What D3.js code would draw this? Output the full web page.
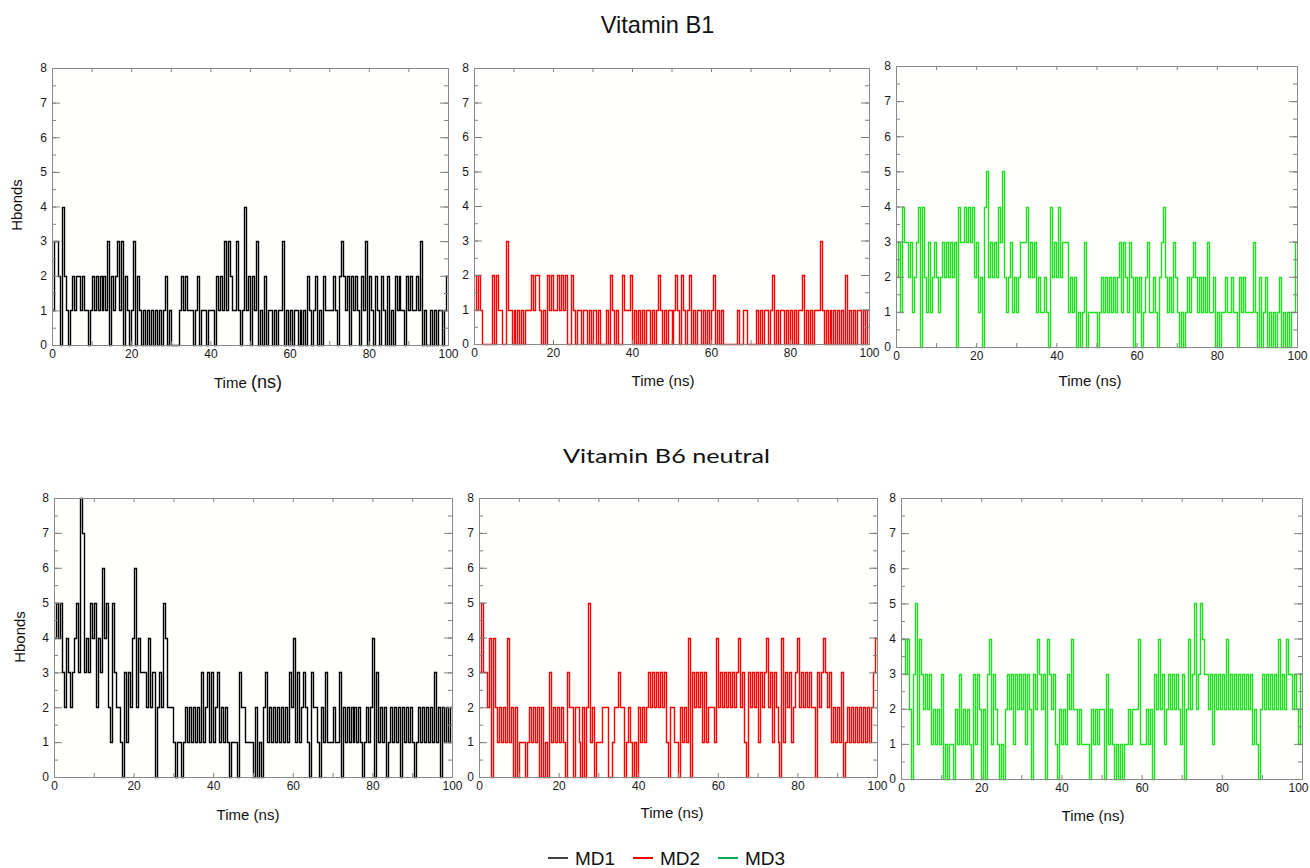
<!DOCTYPE html>
<html><head><meta charset="utf-8">
<script src="https://cdn.jsdelivr.net/npm/d3@7"></script>
<style>body{margin:0;background:#fff} svg{display:block}</style>
</head><body>
<svg id="chart" width="1310" height="868"></svg>
<script>
const timeStep = 0.5;
const b1_md1 = [
 1,3,3,2,0,4,2,1,0,1, 2,1,2,2,1,2,1,1,0,1, 2,1,2,1,2,1,2,1,3,0, 2,1,2,3,1,3,0,2,1,0,
 1,3,0,2,1,0,1,0,1,0, 1,0,1,0,1,0,1,2,0,1, 0,0,0,0,1,2,1,2,1,1, 1,0,1,2,0,1,1,1,0,1,
 1,1,0,2,1,2,1,3,1,3, 2,1,1,3,1,0,1,4,1,2, 0,2,1,3,0,1,0,2,0,1, 1,0,1,0,1,1,3,0,1,0,
 1,0,1,1,0,1,0,1,0,2, 1,0,1,2,0,1,0,2,1,1, 1,1,2,1,0,2,3,2,1,2, 0,2,1,2,1,0,2,1,3,0,
 2,1,0,2,1,0,2,1,0,2, 0,1,0,2,1,2,1,1,0,2, 1,2,1,1,2,1,3,0,1,0, 0,1,0,1,0,1,1,0,1,2];
const b1_md2 = [
 2,1,2,1,0,0,0,0,0,2, 0,2,1,1,0,0,3,1,1,0, 1,0,1,0,1,0,1,1,1,2, 1,2,2,1,0,1,0,2,1,2,
 1,1,2,1,2,1,2,0,0,2, 1,0,1,1,0,1,1,0,1,0, 1,1,0,1,0,0,0,1,0,2, 1,0,1,0,0,2,1,1,1,2,
 0,1,0,1,0,1,0,1,1,0, 1,0,1,2,1,0,1,0,1,1, 0,1,2,1,0,2,1,0,1,2, 0,1,0,1,1,0,1,0,1,0,
 1,2,0,1,0,1,0,0,0,0, 0,0,0,1,0,0,1,1,0,0, 0,0,0,1,0,1,0,1,1,0, 1,2,0,1,0,1,1,0,1,0,
 1,0,1,0,1,1,2,0,1,0, 1,0,1,1,1,3,1,0,1,0, 1,0,1,0,1,0,1,0,2,0, 1,0,1,0,1,1,0,1,0,1];
const b1_md3 = [
 2,3,1,4,3,3,2,3,1,2, 3,4,0,4,2,1,3,1,2,3, 2,1,2,3,2,3,2,3,2,3, 0,4,3,3,4,3,4,3,4,2,
 3,1,2,0,4,5,2,3,2,3, 2,4,3,5,2,1,2,3,1,2, 1,2,3,3,3,4,2,3,2,3, 1,2,1,1,2,1,0,4,2,3,
 2,4,2,3,3,3,1,2,1,2, 0,1,0,1,3,0,1,1,1,1, 0,1,2,1,2,1,2,1,2,1, 2,3,1,3,2,1,3,2,0,2,
 1,2,0,1,2,3,1,1,2,1, 0,2,3,4,2,1,2,1,3,2, 1,0,1,0,1,2,1,2,3,2, 1,2,1,2,1,3,1,1,2,0,
 1,0,1,1,2,1,1,2,1,1, 0,2,1,2,1,1,1,1,3,1, 0,2,0,1,2,0,1,0,1,0, 1,2,0,1,0,1,0,1,1,3];
const b6_md1 = [
 4,5,4,5,3,2,4,3,2,3, 4,5,3,8,7,3,4,3,5,4, 5,2,4,3,6,4,5,2,1,5, 3,2,2,1,0,3,1,3,2,4,
 6,2,4,3,3,3,2,4,2,3, 3,0,2,3,2,5,4,2,2,2, 1,0,1,1,0,1,2,1,2,1, 2,1,2,1,3,1,2,3,1,3,
 1,2,3,1,2,1,2,1,0,1, 1,1,0,3,2,2,1,1,1,1, 0,2,0,1,0,2,3,1,2,1, 2,1,2,1,2,1,2,1,3,2,
 4,1,3,1,2,3,2,1,0,3, 2,2,1,0,2,1,3,1,1,1, 2,1,1,3,0,2,1,2,1,2, 1,2,1,2,1,0,1,2,1,2,
 4,0,3,1,2,1,2,0,1,2, 1,2,1,2,0,2,1,2,1,2, 1,0,1,2,1,2,1,2,1,2, 1,3,1,2,0,2,1,2,1,2];
const b6_md2 = [
 3,5,3,3,2,4,0,4,2,1, 2,1,2,1,4,1,2,0,2,0, 1,1,1,0,1,2,1,2,1,2, 0,2,0,1,0,3,1,2,1,2,
 1,2,1,0,3,2,2,0,2,2, 1,0,2,0,2,5,1,2,0,1, 1,1,2,2,2,0,0,1,2,2, 3,2,2,0,1,2,1,0,1,0,
 2,1,2,1,2,3,2,3,2,3, 2,3,2,3,1,0,2,2,1,1, 0,2,1,2,1,4,0,3,2,3, 2,3,1,3,1,2,2,2,1,4,
 2,3,2,3,2,3,2,3,2,3, 4,2,3,1,0,3,2,3,2,3, 1,3,2,3,4,2,3,1,3,2, 1,0,4,1,3,2,3,1,2,3,
 4,2,3,2,3,2,3,2,2,0, 3,2,3,4,3,2,3,1,2,1, 2,1,3,0,1,2,1,2,1,2, 1,2,1,2,1,2,1,2,3,4];
const b6_md3 = [
 4,4,3,4,2,0,3,5,1,4, 3,2,3,2,3,1,2,1,2,1, 3,0,1,0,1,1,0,2,1,3, 1,2,1,2,1,0,3,1,3,2,
 0,2,0,3,4,1,3,2,1,0, 1,0,2,3,2,3,1,3,2,3, 2,3,1,3,2,0,3,2,4,3, 2,3,0,4,3,2,3,1,0,2,
 1,2,1,3,2,4,2,2,1,2, 1,1,1,1,0,2,1,2,1,2, 2,0,3,1,2,1,0,1,0,1, 0,1,1,2,1,2,2,2,4,1,
 1,1,2,1,2,0,3,2,4,2, 3,1,2,3,2,3,2,3,2,1, 3,0,2,4,2,3,5,2,3,5, 4,3,3,2,3,1,3,2,3,2,
 3,2,4,2,3,2,3,2,3,2, 3,2,3,2,3,1,2,1,0,2, 3,2,3,2,3,2,3,2,4,2, 3,2,4,3,3,2,3,2,1,3];

const groupTitles = ["Vitamin B1", "Vitamin B6 neutral"];
const seriesNames = ["MD1", "MD2", "MD3"];
const xTickLabels = [0, 20, 40, 60, 80, 100];
const yTickLabels = [0, 1, 2, 3, 4, 5, 6, 7, 8];
const yLabel = "Hbonds";
const xLabel = "Time (ns)";

// ---- styles / layout ----
const lineColors = ["#000000", "#ff0000", "#1ee01e"];
const legendColors = ["#404040", "#ff0000", "#00b050"];
const panels = [
  {data: b1_md1, s: 0, x0: 52,  x1: 448,  y0: 68,  y1: 345, yl: [17, 205], tl: [248, 388], big: true},
  {data: b1_md2, s: 1, x0: 474, x1: 869,  y0: 68,  y1: 344, tl: [663, 386]},
  {data: b1_md3, s: 2, x0: 896, x1: 1297, y0: 66,  y1: 347, tl: [1090, 386]},
  {data: b6_md1, s: 0, x0: 54,  x1: 452,  y0: 498, y1: 777, yl: [20, 637], tl: [248, 820]},
  {data: b6_md2, s: 1, x0: 479, x1: 877,  y0: 498, y1: 777, tl: [672, 818]},
  {data: b6_md3, s: 2, x0: 901, x1: 1302, y0: 498, y1: 779, tl: [1093, 821], lastShift: -4}
];

const svg = d3.select("#chart");
const AX = "Liberation Sans, Arial, Helvetica, sans-serif";

panels.forEach(p => {
  const x = d3.scaleLinear().domain([0, 100]).range([p.x0, p.x1]);
  const y = d3.scaleLinear().domain([0, 8]).range([p.y1, p.y0]);
  const g = svg.append("g");
  g.append("rect").attr("x", p.x0).attr("y", p.y0)
    .attr("width", p.x1 - p.x0).attr("height", p.y1 - p.y0).attr("fill", "#fffffd");

  const pts = p.data.concat([p.data[p.data.length - 1]]);
  const line = d3.line()
    .x((d, i) => Math.round(x(Math.min(100, i * timeStep))) + 0.5)
    .y(d => Math.round(y(d)) + 0.5)
    .curve(d3.curveStepAfter);
  g.append("path").datum(pts).attr("d", line)
    .attr("fill", "none").attr("stroke", lineColors[p.s]).attr("stroke-width", 1.4);

  const styleAxis = sel => {
    sel.select(".domain").remove();
    sel.selectAll("line").attr("stroke", "#808080");
    sel.selectAll("text").attr("fill", "#1a1a1a").style("font-family", AX).style("font-size", "12px");
  };
  const xt = d3.range(0, 101, 10);
  const yMinor = d3.range(0, 8.01, 0.5);
  // bottom axis with labels (ticks inward)
  const bx = g.append("g").attr("transform", `translate(0,${p.y1})`)
    .call(d3.axisBottom(x).tickValues(xt).tickSize(-4).tickPadding(4.5)
      .tickFormat(d => xTickLabels.includes(d) ? d : ""))
    .call(styleAxis);
  if (p.lastShift) {
    bx.selectAll(".tick").filter(d => d === 100).select("text").attr("dx", p.lastShift);
  }
  g.append("g").attr("transform", `translate(0,${p.y0})`)
    .call(d3.axisTop(x).tickValues(xt).tickSize(-4).tickFormat(""))
    .call(styleAxis);
  // left axis
  g.append("g").attr("transform", `translate(${p.x0},0)`)
    .call(d3.axisLeft(y).tickValues(yTickLabels).tickSize(-8).tickPadding(5).tickFormat(d3.format("d")))
    .call(styleAxis);
  g.append("g").attr("transform", `translate(${p.x0},0)`)
    .call(d3.axisLeft(y).tickValues(yMinor).tickSize(-4).tickFormat(""))
    .call(styleAxis);
  // right axis
  g.append("g").attr("transform", `translate(${p.x1},0)`)
    .call(d3.axisRight(y).tickValues(yTickLabels).tickSize(-8).tickFormat(""))
    .call(styleAxis);
  g.append("g").attr("transform", `translate(${p.x1},0)`)
    .call(d3.axisRight(y).tickValues(yMinor).tickSize(-4).tickFormat(""))
    .call(styleAxis);
  // frame
  g.append("rect").attr("x", p.x0 + 0.5).attr("y", p.y0 + 0.5)
    .attr("width", p.x1 - p.x0).attr("height", p.y1 - p.y0)
    .attr("fill", "none").attr("stroke", "#8a8a8a").attr("stroke-width", 1);

  // axis titles
  if (p.yl) {
    g.append("text").attr("transform", `translate(${p.yl[0]},${p.yl[1]}) rotate(-90)`)
      .attr("text-anchor", "middle").attr("dy", "0.35em")
      .style("font-family", AX).style("font-size", "15px").attr("fill", "#111").text(yLabel);
  }
  const t = g.append("text").attr("x", p.tl[0]).attr("y", p.tl[1]).attr("text-anchor", "middle")
    .style("font-family", AX).style("font-size", "15px").attr("fill", "#111");
  if (p.big) {
    const parts = xLabel.split(" ");
    t.append("tspan").text(parts[0] + " ");
    t.append("tspan").style("font-size", "18px").text(parts[1]);
  } else {
    t.text(xLabel);
  }
});

// group titles
svg.append("text").attr("x", 657.5).attr("y", 33).attr("text-anchor", "middle")
  .style("font-family", AX).style("font-size", "23.6px").attr("fill", "#111").text(groupTitles[0]);
svg.append("text").attr("x", 666.5).attr("y", 463).attr("text-anchor", "middle")
  .attr("textLength", 207).attr("lengthAdjust", "spacingAndGlyphs")
  .style("font-family", "Lato, 'Open Sans', sans-serif").style("font-size", "19px").attr("fill", "#111").text(groupTitles[1]);

// legend
const legX = [548, 633, 718];
const leg = svg.append("g");
seriesNames.forEach((n, i) => {
  leg.append("line").attr("x1", legX[i]).attr("x2", legX[i] + 20).attr("y1", 858).attr("y2", 858)
    .attr("stroke", legendColors[i]).attr("stroke-width", 2);
  leg.append("text").attr("x", legX[i] + 27).attr("y", 865)
    .style("font-family", AX).style("font-size", "19px").attr("fill", "#111").text(n);
});
</script>
</body></html>
